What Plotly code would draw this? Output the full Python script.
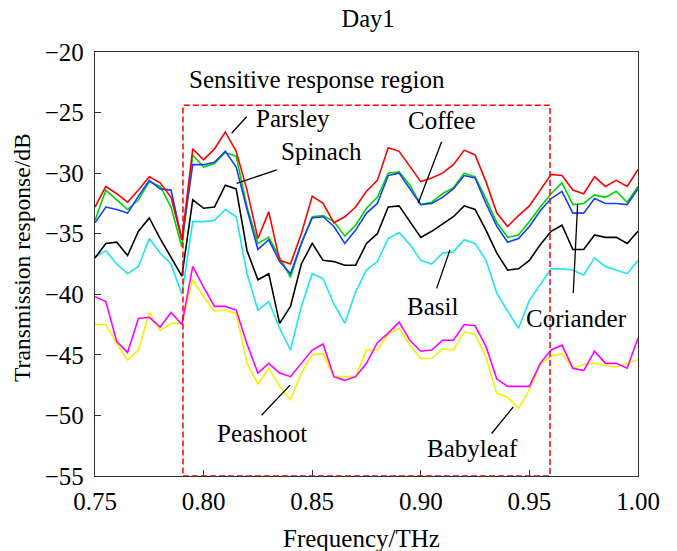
import plotly.graph_objects as go

# Frequency grid (THz)
freq = [round(0.75 + 0.005 * i, 3) for i in range(51)]

coriander = [-32.8, -31.1, -31.7, -32.4, -31.4, -30.3, -30.8, -32.0, -35.5, -28.0,
             -28.9, -28.0, -26.6, -28.2, -31.4, -35.4, -33.2, -37.2, -37.5, -35.0,
             -31.9, -32.5, -34.1, -33.6, -32.8, -31.5, -30.6, -27.9, -28.2, -29.5,
             -30.7, -30.4, -30.0, -29.3, -28.1, -28.5, -30.7, -33.3, -34.4, -33.5,
             -32.7, -31.4, -30.1, -30.2, -31.4, -31.7, -30.3, -31.1, -30.6, -31.1,
             -29.7]
parsley = [-33.9, -31.4, -32.2, -33.0, -32.2, -30.7, -31.1, -32.8, -36.1, -28.5,
           -29.5, -29.2, -28.3, -28.6, -32.8, -35.8, -35.3, -37.0, -38.6, -35.8,
           -33.6, -33.5, -34.0, -35.2, -34.3, -32.9, -32.0, -30.0, -29.9, -31.0,
           -32.6, -32.4, -31.7, -31.2, -30.0, -30.3, -32.1, -34.1, -35.3, -35.1,
           -34.0, -32.8, -31.7, -30.8, -32.6, -32.5, -31.8, -32.0, -31.5, -32.4,
           -31.1]
coffee = [-34.1, -32.8, -33.0, -33.3, -31.9, -30.6, -31.3, -31.4, -35.5, -29.3,
          -29.3, -29.1, -28.2, -29.5, -33.0, -36.3, -35.5, -37.3, -38.3, -35.8,
          -33.7, -33.6, -34.4, -35.8, -34.7, -33.3, -32.5, -30.2, -30.0, -31.3,
          -32.6, -32.5, -32.0, -31.3, -30.2, -30.4, -32.5, -34.4, -35.7, -35.4,
          -34.4, -33.1, -32.1, -31.5, -33.3, -33.3, -32.1, -32.5, -32.5, -32.6,
          -31.3]
spinach = [-37.0, -35.8, -35.7, -36.8, -34.8, -33.7, -35.4, -36.9, -38.5, -32.2,
           -32.9, -32.8, -31.0, -31.3, -36.4, -38.8, -38.3, -42.4, -41.0, -37.5,
           -35.8, -37.2, -37.3, -37.6, -37.6, -35.8, -35.0, -32.8, -32.7, -34.0,
           -35.3, -34.8, -34.2, -33.6, -32.7, -33.0, -34.7, -36.6, -38.0, -37.9,
           -37.2, -35.9, -34.8, -34.3, -36.3, -36.3, -35.1, -35.3, -35.3, -35.8,
           -34.8]
basil = [-36.9, -36.4, -37.5, -38.3, -37.7, -35.4, -36.6, -37.5, -40.0, -34.0,
         -34.0, -33.9, -33.0, -33.6, -38.3, -41.3, -40.6, -42.8, -44.6, -41.0,
         -38.3, -38.7, -40.8, -42.4, -39.8, -38.0, -37.3, -35.4, -34.9, -35.9,
         -37.2, -37.5, -36.6, -36.5, -35.5, -35.8, -37.2, -39.9, -41.4, -42.8,
         -40.5, -39.2, -37.9, -37.9, -38.0, -38.4, -37.0, -37.7, -38.0, -38.3,
         -37.2]
peashoot = [-40.2, -40.6, -43.9, -44.8, -42.0, -41.9, -42.7, -41.5, -42.5, -37.7,
            -39.4, -41.0, -41.0, -41.3, -44.1, -46.5, -45.7, -46.5, -46.8, -45.7,
            -44.6, -44.1, -46.8, -47.1, -46.8, -45.7, -44.0, -43.2, -42.3, -43.8,
            -44.7, -44.6, -43.8, -43.8, -42.5, -42.6, -44.3, -47.0, -47.6, -47.6,
            -47.6, -45.7, -44.6, -44.2, -46.1, -46.3, -44.7, -45.7, -45.7, -46.1,
            -43.6]
babyleaf = [-42.5, -42.5, -44.1, -45.4, -44.6, -41.5, -43.0, -42.4, -42.4, -38.8,
            -40.2, -41.4, -41.3, -41.6, -45.7, -47.4, -46.1, -47.6, -48.7, -46.5,
            -45.0, -44.9, -46.8, -46.8, -46.8, -44.6, -44.6, -43.3, -42.8, -44.2,
            -45.3, -45.3, -44.5, -44.6, -43.1, -43.3, -45.2, -48.2, -48.5, -49.4,
            -47.9, -45.8, -45.1, -44.9, -46.1, -45.8, -45.7, -45.9, -46.0, -45.7,
            -45.4]

series_names = ["Babyleaf", "Peashoot", "Basil", "Spinach", "Parsley", "Coffee", "Coriander"]
series_values = [babyleaf, peashoot, basil, spinach, parsley, coffee, coriander]
series_colors = ["#f2f200", "#ff00ff", "#1ee6ee", "#000000", "#00d400", "#1a3cff", "#ff0000"]

x_ticks = [0.75, 0.80, 0.85, 0.90, 0.95, 1.00]
y_ticks = [-55, -50, -45, -40, -35, -30, -25, -20]

region = dict(x0=0.7905, x1=0.9595, y0=-55, y1=-24.4)

# label text, text position, pointer line (from, to)
labels = [
    ("Parsley", 0.8412, -25.45, (0.8198, -25.34), (0.8129, -26.71)),
    ("Spinach", 0.8541, -28.23, (0.8337, -29.74), (0.8152, -30.84)),
    ("Coffee", 0.9096, -25.62, (0.9096, -27.41), (0.8988, -32.49)),
    ("Basil", 0.9054, -41.03, (0.9073, -39.51), (0.9134, -36.35)),
    ("Coriander", 0.9719, -41.97, (0.9702, -39.90), (0.9722, -32.55)),
    ("Peashoot", 0.8267, -51.49, (0.8267, -49.98), (0.8398, -47.50)),
    ("Babyleaf", 0.9240, -52.72, (0.9326, -51.49), (0.9426, -49.29)),
]

FONT = "Liberation Serif"
W, H = 677, 551
ML, MR, MT, MB = 95, 39, 52, 75

fig = go.Figure()
for name, vals, col in zip(series_names, series_values, series_colors):
    fig.add_trace(go.Scatter(x=freq, y=vals, mode="lines", name=name,
                             line=dict(color=col, width=1.6), showlegend=False))

shapes = [dict(type="rect", xref="x", yref="y", x0=region["x0"], x1=region["x1"],
               y0=region["y0"], y1=region["y1"],
               line=dict(color="#ff0000", width=1.5, dash="6px,3px"))]
annotations = [dict(text="Sensitive response region", x=0.8522, y=-22.31, xref="x", yref="y",
                    showarrow=False, font=dict(family=FONT, size=25, color="black"))]
for txt, tx, ty, p0, p1 in labels:
    annotations.append(dict(text=txt, x=tx, y=ty, xref="x", yref="y", showarrow=False,
                            font=dict(family=FONT, size=25, color="black")))
    shapes.append(dict(type="line", xref="x", yref="y", x0=p0[0], y0=p0[1], x1=p1[0], y1=p1[1],
                       line=dict(color="black", width=1.3)))

# axis titles
annotations.append(dict(text="Frequency/THz", xref="paper", yref="paper",
                        x=(361 - ML) / (W - ML - MR), y=0,
                        yshift=-62, xanchor="center", yanchor="middle", showarrow=False,
                        font=dict(family=FONT, size=25, color="black")))
annotations.append(dict(text="Transmission response/dB", xref="paper", yref="paper", x=0,
                        y=(H - MB - 258) / (H - MT - MB), xshift=-73, xanchor="center",
                        yanchor="middle", textangle=-90,
                        showarrow=False, font=dict(family=FONT, size=23.6, color="black")))

fig.update_layout(
    width=W, height=H,
    margin=dict(l=ML, r=MR, t=MT, b=MB, autoexpand=False),
    paper_bgcolor="white", plot_bgcolor="white",
    font=dict(family=FONT, size=25, color="black"),
    title=dict(text="Day1", x=368 / W, xanchor="center", y=1 - 18 / H, yanchor="middle",
               font=dict(family=FONT, size=24.5, color="black")),
    shapes=shapes, annotations=annotations,
)
fig.update_xaxes(range=[0.75, 1.0], tickvals=x_ticks, ticktext=[f"{v:.2f}" for v in x_ticks],
                 ticks="inside", ticklen=6, tickcolor="#333", showgrid=False, zeroline=False,
                 showline=True, linecolor="#333", linewidth=1.4, mirror=True,
                 automargin=False, ticklabelstandoff=3, tickfont=dict(size=25))
fig.update_yaxes(range=[-55, -20], tickvals=y_ticks, ticks="inside", ticklen=6, tickcolor="#333",
                 showgrid=False, zeroline=False, showline=True, linecolor="#333", linewidth=1.4,
                 mirror=True, automargin=False, ticklabelstandoff=5, tickfont=dict(size=25))

fig.write_html("out.html", config={"displayModeBar": False},
               post_script="document.body.style.margin='0px';")
